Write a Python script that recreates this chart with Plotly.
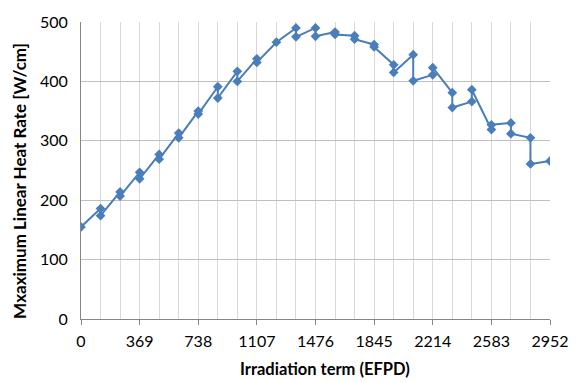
import plotly.graph_objects as go

# Irradiation term (EFPD) and maximum linear heat rate (W/cm) per step;
# repeated EFPD values mark the jump at each reload step.
efpd = [0,
        123, 123, 246, 246, 369, 369, 492, 492, 615, 615,
        738, 738, 861, 861, 984, 984, 1107, 1107, 1230,
        1353, 1353, 1476, 1476, 1599, 1599, 1722, 1722,
        1845, 1845, 1968, 1968, 2091, 2091, 2214, 2214,
        2337, 2337, 2460, 2460, 2583, 2583, 2706, 2706,
        2829, 2829, 2952]
lhr = [155,
       186, 174, 214, 207, 247, 236, 277, 269, 313, 305,
       350, 345, 391, 372, 417, 400, 438, 432, 466,
       490, 475, 490, 476, 483, 479, 477, 471,
       462, 458, 428, 415, 445, 401, 411, 423,
       381, 356, 366, 386, 319, 327, 330, 312,
       305, 261, 266]

x_ticks = [0, 369, 738, 1107, 1476, 1845, 2214, 2583, 2952]
y_ticks = [0, 100, 200, 300, 400, 500]

FONT = "Lato"
LINE_COLOR = "#4A7EBB"

fig = go.Figure()
fig.add_trace(go.Scatter(
    x=efpd, y=lhr, mode="lines+markers",
    line=dict(color=LINE_COLOR, width=2),
    marker=dict(symbol="diamond", size=7.5, color=LINE_COLOR),
    showlegend=False, hoverinfo="x+y",
))

fig.update_layout(
    width=581, height=382,
    margin=dict(l=81, r=20, t=16, b=63),
    paper_bgcolor="white", plot_bgcolor="white",
    font=dict(family=FONT, size=16, color="#000000"),
)

fig.update_xaxes(
    range=[0, 2952], tickvals=x_ticks, ticktext=[str(v) for v in x_ticks],
    showgrid=True, gridcolor="#D9D9D9", gridwidth=1,
    minor=dict(dtick=123, tick0=0, showgrid=True, gridcolor="#D9D9D9", gridwidth=1),
    showline=True, linecolor="#868686", linewidth=1,
    ticks="outside", ticklen=5, tickcolor="#868686",
    tickfont=dict(family=FONT, size=16), zeroline=False,
    ticklabelstandoff=3,
)
fig.update_yaxes(
    range=[0, 500], tickvals=y_ticks,
    showgrid=True, gridcolor="#BFBFBF", gridwidth=1,
    showline=True, linecolor="#868686", linewidth=1,
    ticks="", tickfont=dict(family=FONT, size=16), zeroline=False,
    ticklabelstandoff=9,
)

fig.add_annotation(
    text="<b>Irradiation term (EFPD)</b>", xref="paper", yref="paper",
    x=0.52, y=0, yshift=-50, showarrow=False,
    font=dict(family=FONT, size=16.5), xanchor="center", yanchor="middle",
)
fig.add_annotation(
    text="<b>Mxaximum Linear Heat Rate [W/cm]</b>", xref="paper", yref="paper",
    x=0, xshift=-61, y=0.465, textangle=-90, showarrow=False,
    font=dict(family=FONT, size=17), xanchor="center", yanchor="middle",
)

fig.write_html("out.html")
